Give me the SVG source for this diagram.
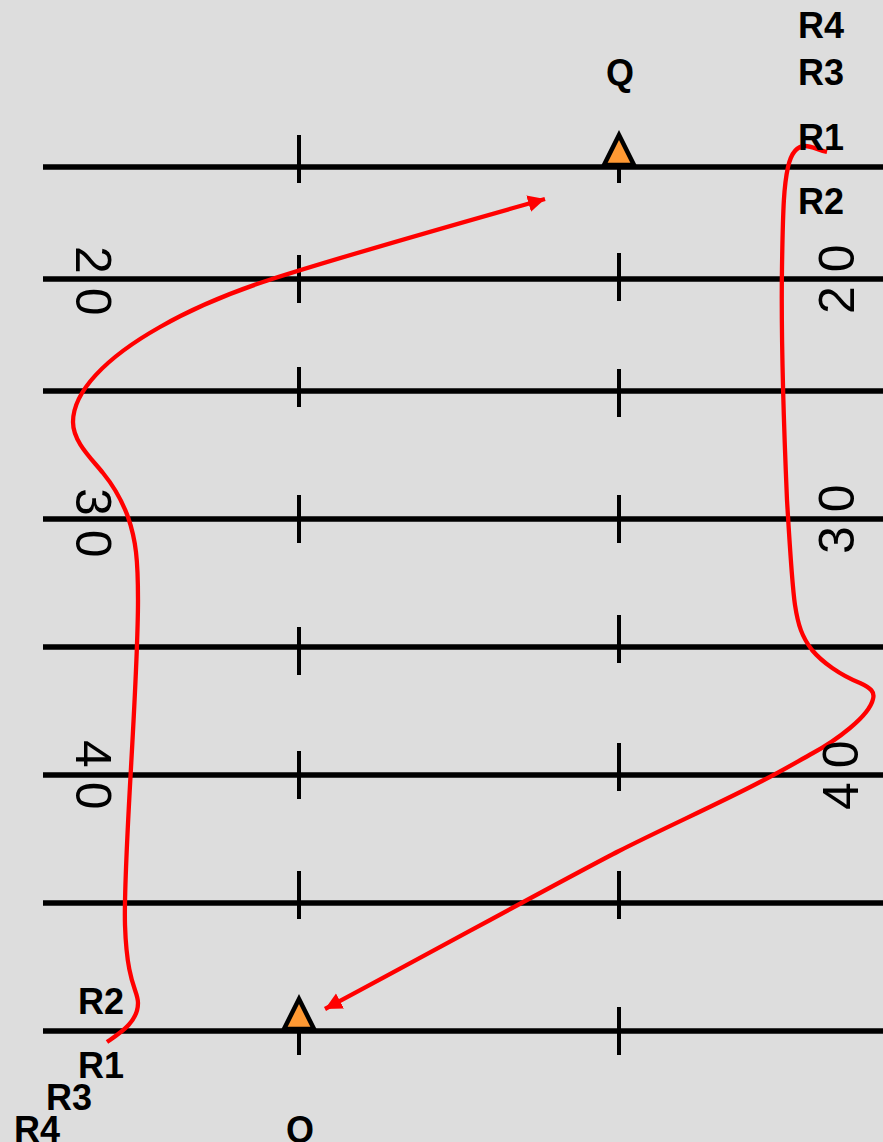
<svg xmlns="http://www.w3.org/2000/svg" width="883" height="1142" viewBox="0 0 883 1142">
<style>
.l{stroke:#000;stroke-width:5.5;fill:none}
.t{stroke:#000;stroke-width:4;fill:none}
.lb{font:bold 36px "Liberation Sans",Arial,sans-serif;fill:#000}
.n{font:50px "Liberation Sans",Arial,sans-serif;fill:#000;letter-spacing:14px}
.tri{fill:#f93;stroke:#000;stroke-width:4.5;stroke-linejoin:miter}
.r{stroke:#f00;stroke-width:4.3;fill:none}
.h{fill:#f00}
</style>
<defs><marker id="a" markerUnits="userSpaceOnUse" markerWidth="20" markerHeight="20" refX="17" refY="10" orient="auto"><path class="h" d="M0 1.5L17 10L0 18.5z"/></marker></defs>
<rect width="883" height="1142" fill="#ddd"/>
<g id="grid">
<path class="l" d="M43 167H883M43 279H883M43 391H883M43 519H883M43 647H883M43 775H883M43 903H883M43 1031H883"/>
<path class="t" d="M299 135V183M299 255V303M299 367V407M299 495V543M299 627V675M299 751V799M299 871V919M299 999V1055M619 135V183M619 253V301M619 369V417M619 495V543M619 615V663M619 743V791M619 871V919M619 1007V1055"/>
</g>
<g id="connectors">
<path class="r" marker-end="url(#a)" d="M827 152C818 150 812 146 805 146C796 146 791 154 788 167C784 185 783 205 782 267C781 330 784 430 787 500C790 550 792 585 795 605C798 625 802 637 812 650C822 662 840 675 860 683C871 688 875 692 873 699C871 708 862 718 850 728C838 738 826 746 813 753C795 763 780 772 760 782C720 803 660 830 619 851C570 876 430 953 325 1009"/>
<path class="r" marker-end="url(#a)" d="M107 1042C120 1033 138 1022 138 1003C138 990 127 985 125 925C123 860 138 690 138 600C138 560 136 540 128 517C121 498 112 484 103 473C92 459 73 442 73 422C73 392 105 358 160 327C195 307 235 291 272 279C350 254 450 226 545 199"/>
</g>
<g id="triangles"><path class="tri" d="M619 135L634 165H604z"/><path class="tri" d="M299 999L314 1029H284z"/></g>
<g id="labels">
<text class="lb" x="606" y="85">Q</text><text class="lb" x="798" y="38">R4</text><text class="lb" x="798" y="85">R3</text><text class="lb" x="798" y="150">R1</text><text class="lb" x="798" y="214">R2</text>
<text class="lb" x="78" y="1014">R2</text><text class="lb" x="78" y="1078">R1</text><text class="lb" x="46" y="1110">R3</text><text class="lb" x="14" y="1142">R4</text><text class="lb" x="286" y="1142">Q</text>
<text class="n" transform="translate(76 246) rotate(90)">20</text>
<text class="n" transform="translate(76 488) rotate(90)">30</text>
<text class="n" transform="translate(76 740) rotate(90)">40</text>
<text class="n" transform="translate(854 314) rotate(-90)">20</text>
<text class="n" transform="translate(854 554) rotate(-90)">30</text>
<text class="n" transform="translate(858 810) rotate(-90)">40</text>
</g>
</svg>
